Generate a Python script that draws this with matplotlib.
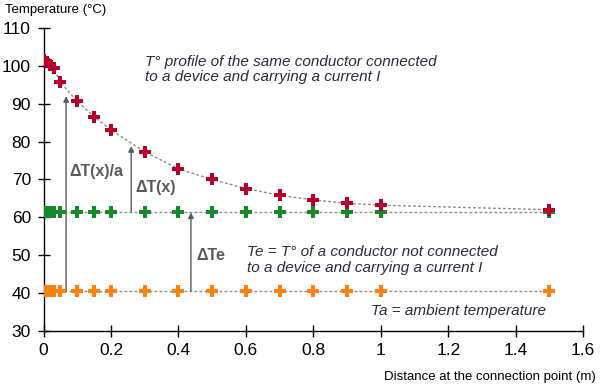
import numpy as np
import matplotlib.pyplot as plt

plt.rcParams['font.family'] = ['Liberation Sans', 'DejaVu Sans']

# distance from the connection point (m)
dist = [0, 0.01, 0.02, 0.03, 0.05, 0.1, 0.15, 0.2, 0.3, 0.4, 0.5, 0.6, 0.7, 0.8, 0.9, 1.0, 1.5]
# temperature of the connected conductor
t_profile = [101.5, 101.0, 100.2, 99.4, 95.7, 90.6, 86.6, 83.1, 77.3, 72.8, 70.0, 67.6, 65.8, 64.6, 63.7, 63.2, 62.0]
# conductor not connected (Te) and ambient (Ta)
t_e = [61.5] * len(dist)
t_a = [40.5] * len(dist)

red = "#B8002B"
green = "#16892C"
orange = "#FF7F0F"
txt = "#2A2A3A"
grey = "#5A5A5A"

fig = plt.figure(figsize=(6, 3.88), dpi=100)
ax = fig.add_axes([0.0725, 0.147, 0.8995, 0.781])

dash = (0, (2, 1.6))
for ys, c in [(t_a, orange), (t_e, green), (t_profile, red)]:
    ax.plot(dist, ys, color="#8C8C8C", linestyle=dash, linewidth=1.0, zorder=1)
    ax.plot(dist, ys, linestyle="none", marker="P", markersize=8.5,
            color=c, markeredgewidth=0, zorder=3)

# arrows
arrow_kw = dict(arrowstyle="-|>", color=grey, lw=1.0, mutation_scale=8,
                shrinkA=0, shrinkB=0)
ax.annotate("", xy=(0.067, 92.0), xytext=(0.067, 40.5), arrowprops=arrow_kw, zorder=2)
ax.annotate("", xy=(0.26, 78.8), xytext=(0.26, 61.5), arrowprops=arrow_kw, zorder=2)
ax.annotate("", xy=(0.437, 61.3), xytext=(0.437, 40.5), arrowprops=arrow_kw, zorder=2)

ax.text(0.078, 72.0, "ΔT(x)/a", fontsize=11.5, fontweight="bold", color=grey, va="center")
ax.text(0.272, 68.0, "ΔT(x)", fontsize=11.5, fontweight="bold", color=grey, va="center")
ax.text(0.452, 49.8, "ΔTe", fontsize=11.5, fontweight="bold", color=grey, va="center")

ax.text(0.30, 99.0, "T° profile of the same conductor connected\nto a device and carrying a current I",
        fontsize=11, style="italic", color=txt, va="center", linespacing=1.15)
ax.text(0.604, 48.8, "Te = T° of a conductor not connected\nto a device and carrying a current I",
        fontsize=11, style="italic", color=txt, va="center", linespacing=1.15)
ax.text(0.97, 35.3, "Ta = ambient temperature",
        fontsize=11, style="italic", color=txt, va="center")

ax.set_xlim(0, 1.6)
ax.set_ylim(30, 110)
ax.set_xticks(np.arange(0, 1.61, 0.2))
ax.set_xticklabels(["0", "0.2", "0.4", "0.6", "0.8", "1", "1.2", "1.4", "1.6"])
ax.set_yticks(range(30, 111, 10))
ax.tick_params(direction="inout", length=8, width=1.0, labelsize=12.5, pad=5)
for s in ["top", "right"]:
    ax.spines[s].set_visible(False)
for s in ["left", "bottom"]:
    ax.spines[s].set_linewidth(1.0)

fig.text(0.008, 0.975, "Temperature (°C)", fontsize=9.5, va="center", ha="left")
fig.text(0.993, 0.028, "Distance at the connection point (m)", fontsize=9.5, va="center", ha="right")

fig.savefig("out.png", dpi=100)
